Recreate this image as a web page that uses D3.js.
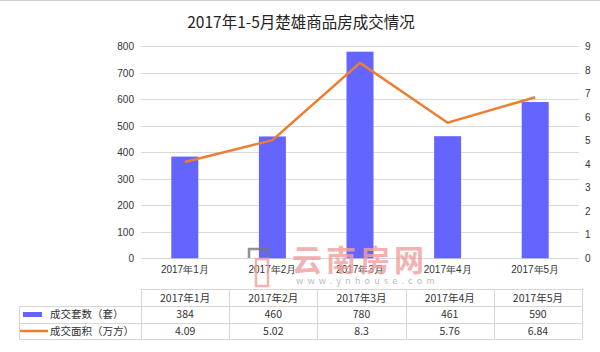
<!DOCTYPE html>
<html>
<head>
<meta charset="utf-8">
<script src="https://cdnjs.cloudflare.com/ajax/libs/d3/7.8.5/d3.min.js"></script>
<style>
    body { margin: 0; background: #fff; }
    svg { display: block; font-family: "Microsoft YaHei", "Noto Sans CJK SC", sans-serif; }
    .tick text { fill: #333; font-size: 10px; }
    .grid line { stroke: #d9d9d9; }
    .tbl text { fill: #333; font-size: 10.5px; }
</style>
</head>
<body>
<svg id="chart" width="600" height="352"></svg>
<script>
// data
const months = ["2017年1月", "2017年2月", "2017年3月", "2017年4月", "2017年5月"];
const units = [384, 460, 780, 461, 590];
const areas = [4.09, 5.02, 8.3, 5.76, 6.84];
const seriesNames = ["成交套数（套）", "成交面积（万方）"];
const leftTicks = [0, 100, 200, 300, 400, 500, 600, 700, 800];
const rightTicks = [0, 1, 2, 3, 4, 5, 6, 7, 8, 9];

const barColor = "#6464ff";
const lineColor = "#ed7d31";

let svg = d3.select("#chart");

let plotLeft = 141, plotRight = 579, plotTop = 46.4, plotBottom = 258.3;

let x = d3.scaleBand().domain(months).range([plotLeft, plotRight]);
let yLeft = d3.scaleLinear().domain([0, 800]).range([plotBottom, plotTop]);
let yRight = d3.scaleLinear().domain([0, 9]).range([plotBottom, plotTop]);

// frame line at top
svg.append("line")
    .attr("x1", 0).attr("x2", 600).attr("y1", 0.5).attr("y2", 0.5)
    .attr("stroke", "#d0d0d0");

// title
svg.append("text")
    .attr("x", 301).attr("y", 28)
    .attr("text-anchor", "middle")
    .attr("font-size", "15.5px")
    .attr("fill", "#222")
    .text("2017年1-5月楚雄商品房成交情况");

// gridlines
svg.append("g")
    .attr("class", "grid")
    .selectAll("line").data(leftTicks)
    .join("line")
    .attr("x1", plotLeft).attr("x2", plotRight)
    .attr("y1", d => Math.round(yLeft(d)) + 0.5)
    .attr("y2", d => Math.round(yLeft(d)) + 0.5);

// left axis
let axisL = svg.append("g")
    .attr("transform", `translate(${plotLeft},0)`)
    .call(d3.axisLeft(yLeft).tickValues(leftTicks).tickSize(0).tickPadding(7));
axisL.select(".domain").remove();

// right axis
let axisR = svg.append("g")
    .attr("transform", `translate(${plotRight},0)`)
    .call(d3.axisRight(yRight).tickValues(rightTicks).tickSize(0).tickPadding(6));
axisR.select(".domain").remove();

// bars
let barW = 27;
svg.append("g")
    .selectAll("rect").data(units)
    .join("rect")
    .attr("x", (d, i) => x(months[i]) + x.bandwidth() / 2 - barW / 2)
    .attr("y", d => yLeft(d))
    .attr("width", barW)
    .attr("height", d => plotBottom - yLeft(d))
    .attr("fill", barColor);

// line
let line = d3.line()
    .x((d, i) => x(months[i]) + x.bandwidth() / 2)
    .y(d => yRight(d));
svg.append("path")
    .datum(areas)
    .attr("d", line)
    .attr("fill", "none")
    .attr("stroke", lineColor)
    .attr("stroke-width", 2.5);

// x axis labels
let axisX = svg.append("g")
    .attr("transform", `translate(0,${plotBottom})`)
    .call(d3.axisBottom(x).tickSize(0).tickPadding(8));
axisX.select(".domain").remove();

// watermark
let wm = svg.append("g").attr("opacity", 0.8);
wm.append("path")
    .attr("d", "M249,258 L249,249 L268,249 L268,258")
    .attr("fill", "none").attr("stroke", "#777").attr("stroke-width", 2.5);
wm.append("rect")
    .attr("x", 256).attr("y", 259).attr("width", 12).attr("height", 27)
    .attr("fill", "none").attr("stroke", "#f0a0a0").attr("stroke-width", 2.5);
wm.append("text")
    .attr("x", 292).attr("y", 271)
    .attr("font-size", "30px")
    .attr("font-weight", "bold")
    .attr("letter-spacing", "4px")
    .attr("fill", "#f0a0a0")
    .text("云南房网");
wm.append("text")
    .attr("x", 296).attr("y", 284)
    .attr("font-size", "9px")
    .attr("letter-spacing", "4.2px")
    .attr("fill", "#aaa")
    .text("www.ynhouse.com");

// data table
let tbl = svg.append("g").attr("class", "tbl");
let colX = d3.scaleBand().domain(months).range([141, 582]);
let rowY = [289, 306, 322.5, 339];
let tLeft = 19, tRight = 582;
let borderColor = "#d6d6d6";

// horizontal borders
tbl.append("line")
    .attr("x1", 141).attr("x2", tRight).attr("y1", rowY[0] + 0.5).attr("y2", rowY[0] + 0.5)
    .attr("stroke", borderColor);
tbl.selectAll(".hrow").data(rowY.slice(1))
    .join("line")
    .attr("x1", tLeft).attr("x2", tRight)
    .attr("y1", d => Math.round(d) + 0.5).attr("y2", d => Math.round(d) + 0.5)
    .attr("stroke", borderColor);
// vertical borders
tbl.append("line")
    .attr("x1", tLeft + 0.5).attr("x2", tLeft + 0.5).attr("y1", rowY[1]).attr("y2", rowY[3])
    .attr("stroke", borderColor);
tbl.selectAll(".vcol").data(months.concat(["end"]))
    .join("line")
    .attr("x1", (d, i) => Math.round(141 + i * colX.bandwidth()) + 0.5)
    .attr("x2", (d, i) => Math.round(141 + i * colX.bandwidth()) + 0.5)
    .attr("y1", rowY[0]).attr("y2", rowY[3])
    .attr("stroke", borderColor);

// header
tbl.selectAll(".hdr").data(months)
    .join("text")
    .attr("x", d => colX(d) + colX.bandwidth() / 2)
    .attr("y", 301.5)
    .attr("text-anchor", "middle")
    .text(d => d);

let rows = [units, areas];
rows.forEach((vals, r) => {
    let cy = (rowY[r + 1] + rowY[r + 2]) / 2 + 4;
    tbl.selectAll(".v" + r).data(vals)
        .join("text")
        .attr("x", (d, i) => colX(months[i]) + colX.bandwidth() / 2)
        .attr("y", cy)
        .attr("text-anchor", "middle")
        .text(d => d);
    tbl.append("text")
        .attr("x", 50).attr("y", cy)
        .attr("font-size", "11px")
        .text(seriesNames[r]);
});
// legend keys
tbl.append("rect")
    .attr("x", 23).attr("y", 312).attr("width", 19).attr("height", 5)
    .attr("fill", barColor);
tbl.append("line")
    .attr("x1", 20).attr("x2", 48).attr("y1", 331).attr("y2", 331)
    .attr("stroke", lineColor).attr("stroke-width", 2.5);
</script>
</body>
</html>
